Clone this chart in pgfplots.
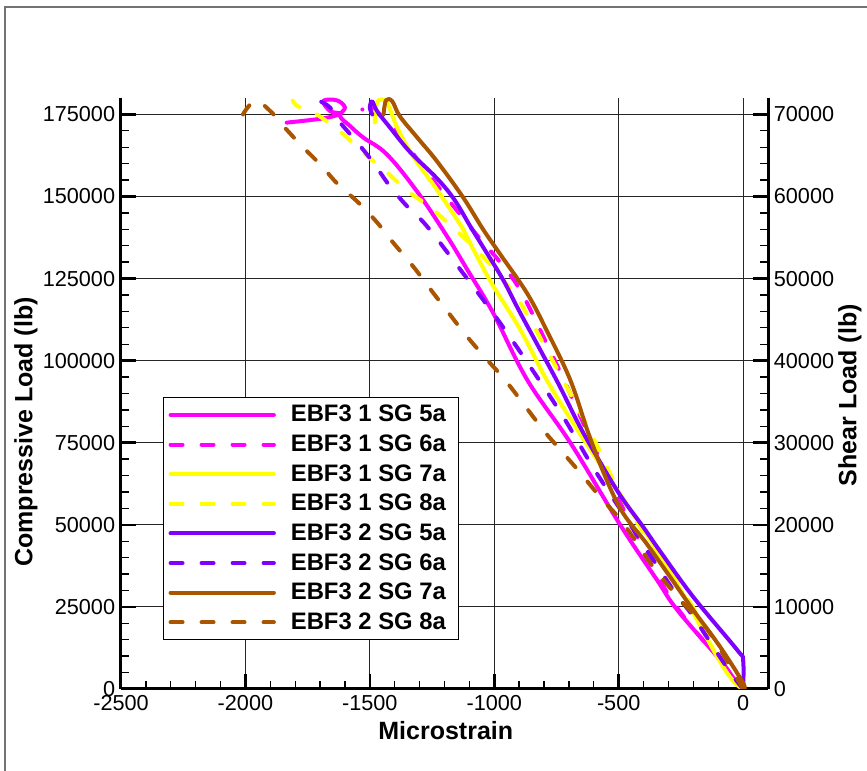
\documentclass[border=0pt]{standalone}
\usepackage{fontspec}
\setmainfont{Liberation Sans}
\usepackage{pgfplots}
\pgfplotsset{compat=1.18}
\definecolor{cMag}{RGB}{255,0,255}
\definecolor{cYel}{RGB}{255,255,0}
\definecolor{cPur}{RGB}{128,0,255}
\definecolor{cBrn}{RGB}{170,85,0}
\begin{document}
\begin{tikzpicture}
\useasboundingbox (-72.6pt,-49.2pt) rectangle (447.6pt,413.4pt);
\draw[black!55, line width=0.9pt] (-69.6pt,-60pt) -- (-69.6pt,409.2pt) -- (460pt,409.2pt);
\pgfplotsset{
  common/.style={
    at={(0pt,0pt)}, anchor=south west, scale only axis,
    width=388.2pt, height=354.6pt,
    xmin=-2500, xmax=100, ymin=0,
    scaled x ticks=false, scaled y ticks=false,
    axis line style={-, line width=1.8pt},
    tick align=inside,
    major tick length=9pt, minor tick length=4.8pt,
    every major tick/.style={line width=1.5pt, black},
    every minor tick/.style={line width=0.8pt, black},
    tick label style={font=\fontsize{13}{15}\selectfont},
    label style={font=\bfseries\fontsize{15}{18}\selectfont},
  },
  dsh/.style={dash pattern=on 7.2pt off 11.4pt},
}
\begin{axis}[common, ymax=180000,
  axis x line*=bottom, axis y line*=left,
  xtick={-2500,-2000,-1500,-1000,-500,0},
  xticklabels={-2500,-2000,-1500,-1000,-500,0},
  ytick={0,25000,50000,75000,100000,125000,150000,175000},
  yticklabels={0,25000,50000,75000,100000,125000,150000,175000},
  minor x tick num=4, minor y tick num=4,
  grid=major, major grid style={line width=0.7pt, black!85},
  xlabel={Microstrain}, ylabel={Compressive Load (lb)},
  xlabel style={at={(axis description cs:0.502,-0.071)}, anchor=center},
  ylabel style={at={(axis description cs:-0.147,0.435)}, anchor=center},
  every axis plot/.append style={line width=2.4pt, line cap=round, line join=round, smooth, tension=0.6},
  legend style={at={(axis description cs:0.065,0.083)}, anchor=south west, draw=black, line width=0.6pt, fill=white,
    font=\bfseries\fontsize{14.3}{16}\selectfont, row sep=2.3pt, inner xsep=3pt, inner ysep=2.5pt,
    nodes={inner xsep=4.5pt}},
  legend cell align=left,
  legend image code/.code={\draw[#1] (0pt,0pt) -- (62pt,0pt); \path (66.5pt,0pt);},
]
% EBF3 1 SG 5a
\addplot[cMag] coordinates {(0,0) (-40,3500) (-92,8800) (-265,24100) (-346,33200) (-494,50000) (-690,74500) (-868,94200) (-1005,114600) (-1109,127800) (-1195,138500) (-1310,151500) (-1431,162800) (-1527,168000) (-1580,171500) (-1620,174500) (-1600,177100) (-1633,179300) (-1687,179100) (-1660,176000) (-1620,175200) (-1687,173800) (-1834,172500)};
\addlegendentry{EBF3 1 SG 5a}
% EBF3 1 SG 6a
\addplot[cMag, dsh] coordinates {(0,0) (-80,8800) (-173,15900) (-305,29300) (-450,50000) (-600,74000) (-708,92100) (-788,105000) (-896,121500) (-977,130000) (-1045,136000) (-1137,144500) (-1270,157300) (-1338,164300) (-1407,171500) (-1470,175500) (-1495,177800) (-1520,178800) (-1530,176500)};
\addlegendentry{EBF3 1 SG 6a}
% EBF3 1 SG 7a
\addplot[cYel] coordinates {(0,0) (-80,6700) (-305,37200) (-587,69800) (-683,81000) (-790,94200) (-896,109500) (-1010,123500) (-1085,134000) (-1125,140000) (-1225,151500) (-1326,162200) (-1390,171000) (-1431,178500) (-1465,179300) (-1478,176000) (-1480,172600)};
\addlegendentry{EBF3 1 SG 7a}
% EBF3 1 SG 8a
\addplot[cYel, dsh] coordinates {(0,0) (-30,3000) (-140,17500) (-300,36500) (-470,56000) (-595,75300) (-695,90000) (-856,112500) (-924,120700) (-1005,128300) (-1085,134800) (-1165,140500) (-1258,146700) (-1354,152000) (-1435,157600) (-1527,163400) (-1620,169800) (-1720,175300) (-1790,177500) (-1810,179200)};
\addlegendentry{EBF3 1 SG 8a}
% EBF3 2 SG 5a
\addplot[cPur] coordinates {(0,0) (0,8800) (-24,11900) (-200,28000) (-334,42000) (-402,49400) (-494,59000) (-587,70700) (-660,80500) (-748,93800) (-896,114600) (-965,124700) (-1040,134000) (-1097,141000) (-1160,149000) (-1230,155500) (-1338,163500) (-1419,171000) (-1471,176000) (-1491,179000) (-1500,177000) (-1490,175000)};
\addlegendentry{EBF3 2 SG 5a}
% EBF3 2 SG 6a
\addplot[cPur, dsh] coordinates {(0,0) (-60,6000) (-200,22000) (-281,30200) (-470,52000) (-603,67500) (-723,82900) (-856,98200) (-989,112800) (-1137,127800) (-1270,140900) (-1350,147000) (-1419,153100) (-1487,160400) (-1551,166500) (-1620,172600) (-1660,177100) (-1700,179000)};
\addlegendentry{EBF3 2 SG 6a}
% EBF3 2 SG 7a
\addplot[cBrn] coordinates {(0,0) (0,1800) (-92,12800) (-201,24100) (-293,34100) (-390,44500) (-494,55000) (-587,70700) (-627,79000) (-695,94200) (-788,109000) (-868,120500) (-977,132500) (-1045,140000) (-1125,149700) (-1230,160700) (-1310,168000) (-1380,174500) (-1410,179000) (-1435,179300) (-1445,175000)};
\addlegendentry{EBF3 2 SG 7a}
% EBF3 2 SG 8a
\addplot[cBrn, dsh] coordinates {(0,0) (-133,17000) (-250,27000) (-362,37200) (-482,50500) (-575,58500) (-655,65900) (-735,72900) (-804,79000) (-948,93300) (-1029,100300) (-1109,107300) (-1178,114000) (-1246,120700) (-1326,128700) (-1407,136000) (-1471,142100) (-1547,148200) (-1628,153700) (-1700,159800) (-1780,165900) (-1861,172600) (-1900,176000) (-1960,179200) (-2010,175000)};
\addlegendentry{EBF3 2 SG 8a}
\end{axis}
\begin{axis}[common, ymax=72000,
  axis y line*=right, hide x axis,
  ytick={0,10000,20000,30000,40000,50000,60000,70000},
  yticklabels={0,10000,20000,30000,40000,50000,60000,70000},
  minor y tick num=4,
  ylabel={Shear Load (lb)},
  ylabel style={at={(axis description cs:1.1267,0.497)}, anchor=center, rotate=0},
]
\addplot[draw=none] coordinates {(0,0)};
\end{axis}
\end{tikzpicture}
\end{document}
